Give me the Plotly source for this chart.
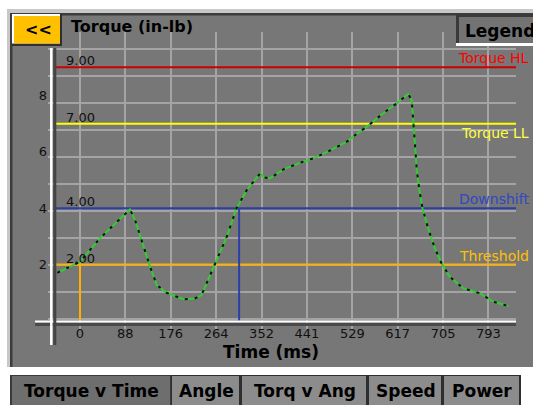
import plotly.graph_objects as go

W, H = 533, 405
OFF = 0  # body margin is removed below, so screen pixel == figure pixel

# torque trace (ms, in-lb)
time_ms = [-44, 0, 39, 97, 107, 113, 136, 149, 168, 201, 223, 236, 243, 262, 285, 304,
           324, 350, 357, 369, 395, 427, 453, 485, 518, 537, 557, 589, 615, 637, 644,
           647, 650, 654, 659, 665, 676, 689, 702, 718, 744, 777, 803, 832]
torque_inlb = [1.71, 2.10, 2.94, 3.96, 3.58, 3.23, 1.93, 1.28, 1.00, 0.77, 0.80, 0.92, 1.22,
               1.99, 2.99, 4.00, 4.65, 5.24, 5.09, 5.06, 5.38, 5.61, 5.77, 6.04, 6.36, 6.63,
               6.89, 7.37, 7.72, 8.05, 7.84, 7.13, 6.18, 5.35, 4.65, 4.00, 3.29, 2.58, 2.05,
               1.57, 1.16, 0.98, 0.68, 0.53]

limit_names = ['Torque HL', 'Torque LL', 'Downshift', 'Threshold']
limit_values = [9.0, 7.0, 4.0, 2.0]
limit_colors = ['#cc0000', '#ffff00', '#2a3fa8', '#ffb000']
limit_text_colors = ['#ff0000', '#ffff40', '#3048c0', '#ffc000']
limit_text_below = [False, True, False, False]

# times where threshold / downshift were hit
event_times = [0, 309]
event_levels = [2.0, 4.0]
event_colors = ['#ffb000', '#2a3fa8']

x_tick_vals = [0, 88.1, 176.2, 264.4, 352.5, 440.6, 528.8, 616.9, 705.0, 793.1]
x_tick_text = ['0', '88', '176', '264', '352', '441', '529', '617', '705', '793']
y_tick_vals = [2, 4, 6, 8]

tab_names = ['Torque v Time', 'Angle', 'Torq v Ang', 'Speed', 'Power']
tab_edges = [12, 171, 241, 368, 443, 521]

PANEL = '#777777'
GRID = '#a4a4a4'
FONT = 'DejaVu Sans'

X_RANGE = [-62.1, 846.6]
Y_RANGE = [-0.284, 10.25]
AXIS_X = -48  # where the vertical axis sits, in ms


# screen pixel -> paper fraction
def px(x):
    return (x - OFF) / W


def py(y):
    return 1 - (y - OFF) / H


def rect(x0, y0, x1, y1, fill, layer='below'):
    return dict(type='rect', xref='paper', yref='paper', x0=px(x0), x1=px(x1), y0=py(y1), y1=py(y0),
                fillcolor=fill, line=dict(width=0), layer=layer)


def seg(x0, y0, x1, y1, color, width, layer='above'):
    return dict(type='line', xref='paper', yref='paper', x0=px(x0), x1=px(x1), y0=py(y0), y1=py(y1),
                line=dict(color=color, width=width), layer=layer)


def label(x, y, text, size, color='#000000', xanchor='center', bold=True):
    return dict(xref='paper', yref='paper', x=px(x), y=py(y), xanchor=xanchor, yanchor='middle',
                text=text, showarrow=False,
                font=dict(family=FONT, size=size, color=color, weight='bold' if bold else 'normal'))


fig = go.Figure()

# limit lines
for val, col in zip(limit_values, limit_colors):
    fig.add_trace(go.Scatter(x=[AXIS_X, X_RANGE[1]], y=[val, val], mode='lines',
                             line=dict(color=col, width=2), hoverinfo='skip', showlegend=False))
for t, val, col in zip(event_times, event_levels, event_colors):
    fig.add_trace(go.Scatter(x=[t, t], y=[0, val], mode='lines',
                             line=dict(color=col, width=2), hoverinfo='skip', showlegend=False))

# torque curve: green with black dashes on top
fig.add_trace(go.Scatter(x=time_ms, y=torque_inlb, mode='lines', line=dict(color='#33cc33', width=2),
                         showlegend=False))
fig.add_trace(go.Scatter(x=time_ms, y=torque_inlb, mode='lines',
                         line=dict(color='#111111', width=2, dash='3px,7px'), showlegend=False))

shapes = []
shapes.append(rect(7, 9, 533, 367, '#c8c8c8'))
shapes.append(rect(10, 13, 533, 367, '#3c3c3c'))
shapes.append(rect(12.5, 15.5, 533, 367, PANEL))

# "<<" button
shapes.append(rect(12, 14, 62, 46, '#303030', layer='above'))
shapes.append(rect(12, 14, 60, 43.5, '#ffffff', layer='above'))
shapes.append(rect(14, 16, 60, 43.5, '#ffc000', layer='above'))
# legend button
shapes.append(rect(456, 15, 533, 46, '#ffffff', layer='above'))
shapes.append(rect(456, 15, 533, 43, '#3a3a3a', layer='above'))
shapes.append(rect(459, 17, 533, 43, '#737373', layer='above'))

# axis lines with 3d look
shapes.append(seg(35, 321.5, 516, 321.5, '#ffffff', 2))
shapes.append(seg(35, 324.5, 516, 324.5, '#4a4a4a', 3))
shapes.append(seg(51.3, 48, 51.3, 345, '#ffffff', 2.5))
shapes.append(seg(54.8, 48, 54.8, 345, '#444444', 3))

# tabs
shapes.append(rect(0, 367, 533, 405, '#ffffff'))
for i in range(len(tab_names)):
    x0, x1 = tab_edges[i], tab_edges[i + 1]
    if i == 0:
        shapes.append(rect(x0 - 2, 375, x1, 405, '#3a3a3a'))
        shapes.append(rect(x0, 376, x1 - 1, 405, '#6e6e6e'))
    else:
        shapes.append(rect(x0, 375, x1, 405, '#2e2e2e'))
        shapes.append(rect(x0 + 1, 376, x1 - 2, 405, '#8c8c8c'))

annotations = [
    label(38, 29.5, '<<', 16),
    label(69, 26, 'Torque (in-lb)', 16, xanchor='left'),
    label(463, 31, 'Legend', 17, xanchor='left'),
    label(271, 351.5, 'Time (ms)', 17),
]

for name, val, tcol, below in zip(limit_names, limit_values, limit_text_colors, limit_text_below):
    annotations.append(dict(xref='x', yref='y', x=-31, y=val, xanchor='left', yanchor='bottom', yshift=-3,
                            text=f'{val:.2f}', showarrow=False, font=dict(family=FONT, size=13, color='#101010')))
    annotations.append(dict(xref='paper', yref='y', x=px(531), y=val, xanchor='right',
                            yanchor='top' if below else 'bottom', yshift=1 if below else -1,
                            text=name, showarrow=False, font=dict(family=FONT, size=14, color=tcol)))

for i, name in enumerate(tab_names):
    annotations.append(label((tab_edges[i] + tab_edges[i + 1]) / 2, 391, name, 17))

fig.update_layout(
    width=W, height=H, autosize=False,
    margin=dict(l=0, r=0, t=0, b=0, pad=0),
    paper_bgcolor='#ffffff', plot_bgcolor='rgba(0,0,0,0)',
    shapes=shapes, annotations=annotations, showlegend=False,
    xaxis=dict(domain=[px(48), px(516)], range=X_RANGE, tickvals=x_tick_vals, ticktext=x_tick_text,
               showgrid=True, gridcolor=GRID, gridwidth=2, zeroline=False, showline=False, ticks='',
               ticklabelstandoff=-5,
               tickfont=dict(family=FONT, size=13, color='#101010'), fixedrange=True),
    yaxis=dict(domain=[py(329), py(32)], range=Y_RANGE, tickvals=y_tick_vals, showgrid=False,
               zeroline=False, showline=False, ticks='',
               tickfont=dict(family=FONT, size=13, color='#101010'), fixedrange=True),
    yaxis2=dict(overlaying='y', range=Y_RANGE, tick0=0.07, dtick=0.956, showgrid=True, gridcolor=GRID,
                gridwidth=2, showticklabels=False, zeroline=False, showline=False, ticks=''),
)

# dummy trace to bind the grid axis
fig.add_trace(go.Scatter(x=[None], y=[None], yaxis='y2', showlegend=False, hoverinfo='skip'))

fig.write_html("out.html", config={'displayModeBar': False},
               post_script="document.body.style.margin='0';document.documentElement.style.overflow='hidden';")
